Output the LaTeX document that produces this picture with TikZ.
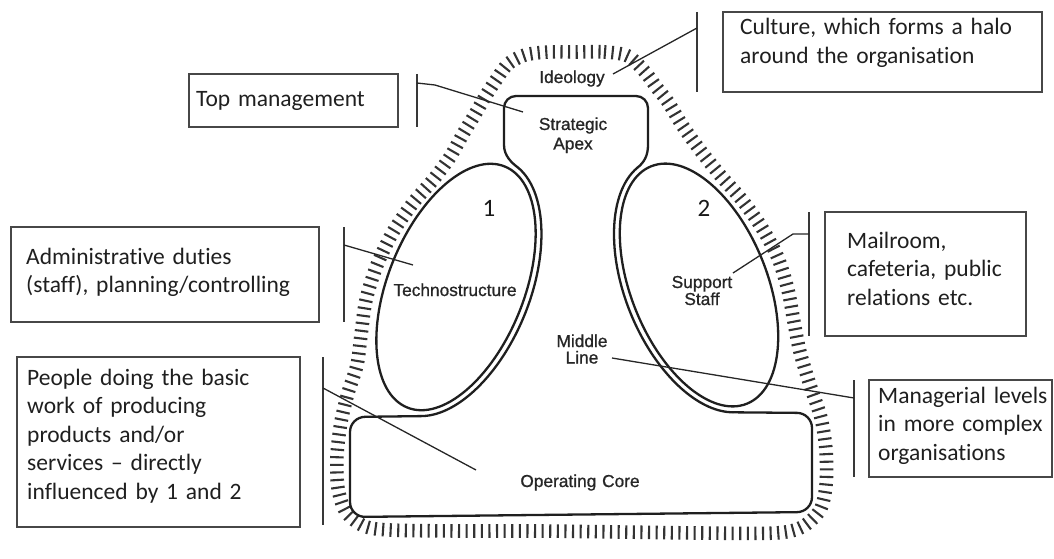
\documentclass[tikz,border=0pt]{standalone}
\usepackage{fontspec}
\usetikzlibrary{decorations.pathreplacing}
\newfontfamily\bxfam{Carlito}[Ligatures=NoCommon]
\newfontfamily\lbfam{Liberation Sans}[FakeBold=0.9]
\newcommand\bxfont{\bxfam\fontsize{23.5}{28.6}\selectfont}
\newcommand\nmfont{\bxfam\fontsize{25}{30}\selectfont}
\begin{document}
\begin{tikzpicture}[x=1pt,y=-1pt,
  orgline/.style={line width=2.3pt, draw=black!88, line cap=round},
  halo/.style={line width=2.1pt, draw=black!80, decorate,
    decoration={ticks, segment length=7.6pt, amplitude=6.8pt}},
  box/.style={draw=black!72, line width=1.5pt, inner sep=0pt},
  brk/.style={draw=black!78, line width=1.4pt},
  leader/.style={draw=black!85, line width=1.3pt},
  boxtext/.style={font=\bxfont, text=black!88, text width=330pt, align=left, anchor=base west, inner sep=0pt},
  lab/.style={font={\lbfam\fontsize{17.3}{#1}\selectfont}, text=black!85, text width=130pt, align=center, anchor=base, inner sep=0pt},
  lab/.default=19.5,
  num/.style={font=\nmfont, text=black!90, anchor=base, inner sep=0pt}]
\useasboundingbox (0,0) rectangle (1054,559);

% ---------- halo (ideology) ----------
\draw[halo] plot[smooth cycle, tension=0.5] coordinates {
 (576,52) (605,52) (628,56) (645,72) (657,88) (668,102) (682,125) (700,150)
 (720,175) (742,200) (762,228) (778,258) (788,290) (794,322) (800,352)
 (810,385) (821,418) (826,450) (826,485) (820,510) (802,527) (775,533)
 (700,533) (620,532) (540,531) (460,531) (390,530) (364,526) (346,512)
 (338,488) (337,455) (341,422) (348,393) (357,365) (361,335) (366,300)
 (377,265) (393,232) (413,203) (433,180) (450,157) (463,134) (474,116)
 (485,97) (496,80) (508,64) (525,55) (548,52)};

% ---------- organisation outline ----------
% left and right ellipses
\draw[orgline, rotate around={-22:(456,287)}] (456,287) ellipse [x radius=68, y radius=130];
\draw[orgline, rotate around={22:(699,285)}] (699,285) ellipse [x radius=68, y radius=128];
% outer lines parallel to the ellipses
\draw[orgline, rotate around={-22:(456,287)}] (456,287) ++(-80:74 and 136)
   arc[start angle=-80, end angle=77.6, x radius=74, y radius=136];
\draw[orgline, rotate around={22:(699,285)}] (699,285) ++(-100:74 and 134)
   arc[start angle=-100, end angle=-257.4, x radius=74, y radius=134];
% strategic apex with its neck
\draw[orgline] (518.1,167.7) .. controls (511.9,162.9) and (504,156) .. (504,145)
   -- (504,108) arc[start angle=180, end angle=270, radius=12]
   -- (636,96) arc[start angle=270, end angle=360, radius=12]
   -- (648,145) .. controls (648,156) and (643.9,162.4) .. (637.7,167.5);
% operating core
\draw[orgline, rounded corners=15] (421,416.1) -- (350,417) -- (350,517)
   -- (812,512) -- (812,413) -- (733,412.3);

% ---------- labels inside ----------
\node[lab] (ideo) at (572,83) {Ideology};
\node[lab] (apex) at (573,130) {Strategic\\Apex};
\node[lab] (techno) at (455,296) {Technostructure};
\node[lab=17] (supp) at (702,288) {Support\\Staff};
\node[lab=16.5] (mid) at (582,347) {Middle\\Line};
\node[lab] (core) at (580,487) {Operating Core};
\node[num] (n1) at (489,216) {1};
\node[num] (n2) at (704,216) {2};

% ---------- explanation boxes ----------
\node[box, minimum width=209pt, minimum height=53pt] (tmbox) at (293.5,100.5) {};
\node[box, minimum width=319pt, minimum height=80pt] (cubox) at (882.5,52) {};
\node[box, minimum width=308pt, minimum height=95pt] (adbox) at (165,274.5) {};
\node[box, minimum width=283pt, minimum height=170pt] (pebox) at (158.5,442) {};
\node[box, minimum width=201pt, minimum height=124pt] (mabox) at (925.5,274) {};
\node[box, minimum width=183pt, minimum height=97pt] (mgbox) at (960.5,428.5) {};

\node[boxtext] (tmtxt) at (196,107) {Top management};
\node[boxtext] (cutxt) at (740,35) {Culture, which forms a halo\\around the organisation};
\node[boxtext] (adtxt) at (26,264) {Administrative duties\\(staff), planning/controlling};
\node[boxtext] (petxt) at (27,385) {People doing the basic\\work of producing\\products and/or\\services – directly\\influenced by 1 and 2};
\node[boxtext] (matxt) at (847,248) {Mailroom,\\cafeteria, public\\relations etc.};
\node[boxtext] (mgtxt) at (878,403) {Managerial levels\\in more complex\\organisations};

% ---------- brackets and leader lines ----------
\coordinate (tmA) at (417,74);  \coordinate (tmB) at (417,127);
\coordinate (tmC) at (417,83);  \coordinate (tmD) at (435,85);  \coordinate (tmE) at (523,112);
\draw[brk] (tmA) -- (tmB);
\draw[leader] (tmC) -- (tmD) -- (tmE);

\coordinate (cuA) at (697,12);  \coordinate (cuB) at (697,92);
\coordinate (cuC) at (697,28);  \coordinate (cuE) at (613,74);
\draw[brk] (cuA) -- (cuB);
\draw[leader] (cuC) -- (cuE);

\coordinate (adA) at (344,227); \coordinate (adB) at (344,322);
\coordinate (adC) at (344,245); \coordinate (adE) at (413,265);
\draw[brk] (adA) -- (adB);
\draw[leader] (adC) -- (adE);

\coordinate (peA) at (323,357); \coordinate (peB) at (323,525);
\coordinate (peC) at (323,388); \coordinate (peE) at (476,470);
\draw[brk] (peA) -- (peB);
\draw[leader] (peC) -- (peE);

\coordinate (maA) at (809,212); \coordinate (maB) at (809,336);
\coordinate (maC) at (809,234); \coordinate (maD) at (793,234); \coordinate (maE) at (733,273);
\draw[brk] (maA) -- (maB);
\draw[leader] (maC) -- (maD) -- (maE);

\coordinate (mgA) at (854,380); \coordinate (mgB) at (854,477);
\coordinate (mgC) at (854,398); \coordinate (mgE) at (612,358);
\draw[brk] (mgA) -- (mgB);
\draw[leader] (mgC) -- (mgE);
\end{tikzpicture}
\end{document}
